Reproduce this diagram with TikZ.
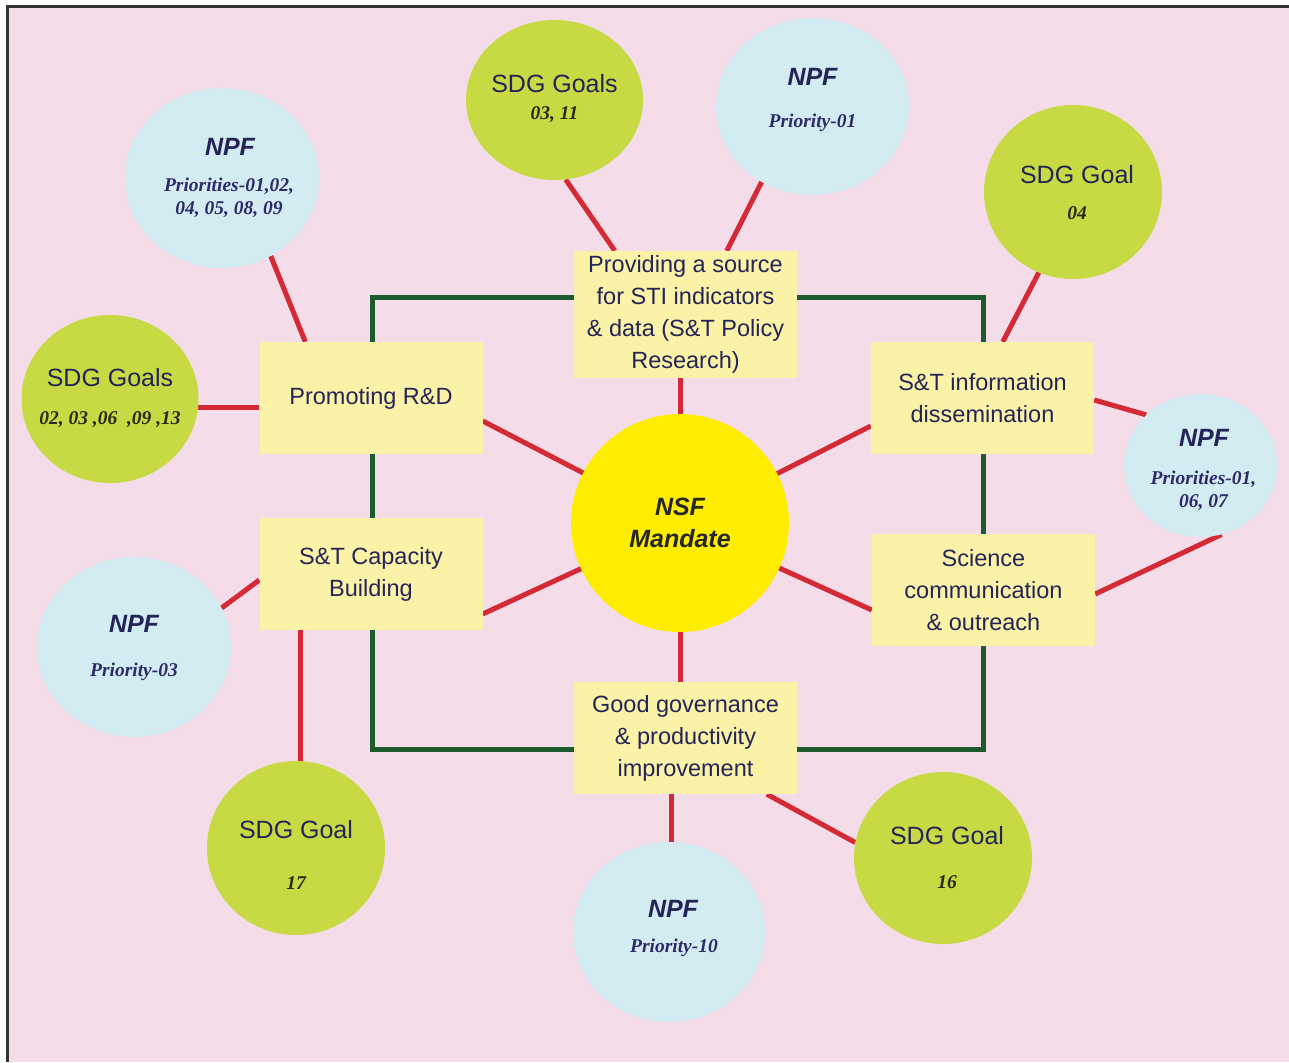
\documentclass[tikz,border=0pt]{standalone}
\usepackage{fontspec}
\setmainfont{Liberation Sans}
\newfontfamily\numf{Liberation Serif}
\usetikzlibrary{shapes.geometric,calc}
\definecolor{pinkbg}{HTML}{F4DCE8}
\definecolor{navyt}{HTML}{252458}
\definecolor{numnavy}{HTML}{2D2A6A}
\definecolor{numdark}{HTML}{2A2914}
\definecolor{boxy}{HTML}{FAF2A6}
\definecolor{limeg}{HTML}{C7DA44}
\definecolor{lightb}{HTML}{D2ECF2}
\definecolor{centery}{HTML}{FFED00}
\definecolor{wirered}{HTML}{D42A35}
\definecolor{frameg}{HTML}{1D5A2E}
\pgfdeclarelayer{back}
\pgfdeclarelayer{wires}
\pgfsetlayers{back,wires,main}
\begin{document}
\begin{tikzpicture}[x=1pt,y=-1pt,
  stbox/.style={rectangle,fill=boxy,minimum width=223pt,minimum height=112pt,inner sep=0pt,align=center,
    font=\fontsize{23.5}{32}\selectfont,text=navyt},
  sdgc/.style={ellipse,fill=limeg,inner sep=0pt},
  npfc/.style={ellipse,fill=lightb,inner sep=0pt},
  sdgt/.style={anchor=base,inner sep=0pt,font=\fontsize{25}{30}\selectfont,text=navyt},
  npft/.style={anchor=base,inner sep=0pt,font=\fontsize{25}{30}\selectfont\bfseries\itshape,text=navyt},
  sdgn/.style={anchor=base,inner sep=0pt,align=center,font=\numf\fontsize{19.5}{23}\selectfont\bfseries\itshape,text=numdark},
  npfn/.style={anchor=base,inner sep=0pt,align=center,font=\numf\fontsize{19.5}{23}\selectfont\bfseries\itshape,text=numnavy},
  wire/.style={draw=wirered,line width=5pt},
  gframe/.style={draw=frameg,line width=5pt}]
\useasboundingbox (0,0) rectangle (1289,1062);
\begin{pgfonlayer}{back}
\fill[white] (0,0) rectangle (1289,1062);
\fill[pinkbg] (7,7) rectangle (1289,1062);
\draw[line width=3pt,black!80] (7,1062) -- (7,7) -- (1289,7);
\end{pgfonlayer}

% centre
\node[circle,fill=centery,minimum size=218pt,inner sep=0pt,align=center,
  font=\fontsize{25}{32}\selectfont\bfseries\itshape,text=black!85] (nsf) at (680,523) {NSF\\Mandate};

% boxes
\node[stbox,minimum height=127pt] (tb) at (685.5,314.5) {Providing a source\\for STI indicators\\\& data (S\&T Policy\\Research)};
\node[stbox] (rd) at (371,398) {Promoting R\&D};
\node[stbox] (info) at (982.5,398) {S\&T information\\dissemination};
\node[stbox] (cap) at (371,574) {S\&T Capacity\\Building};
\node[stbox] (sci) at (983.5,590) {Science\\communication\\\& outreach};
\node[stbox] (gov) at (685.5,738) {Good governance\\\& productivity\\improvement};

% outer circles
\node[npfc,minimum width=194pt,minimum height=180pt] (npfA) at (222,178) {};
\node[sdgc,minimum width=177pt,minimum height=168pt] (sdgA) at (110,399) {};
\node[sdgc,minimum width=177pt,minimum height=160pt] (sdgB) at (554.5,100) {};
\node[npfc,minimum width=193pt,minimum height=177pt] (npfB) at (812.5,106.5) {};
\node[sdgc,minimum width=178pt,minimum height=174pt] (sdgC) at (1073,192) {};
\node[npfc,minimum width=153pt,minimum height=143pt] (npfC) at (1200.5,465.5) {};
\node[npfc,minimum width=194pt,minimum height=180pt] (npfD) at (134,647) {};
\node[sdgc,minimum width=178pt,minimum height=174pt] (sdgD) at (296,848) {};
\node[npfc,minimum width=192pt,minimum height=180pt] (npfE) at (669,932) {};
\node[sdgc,minimum width=178pt,minimum height=172pt] (sdgE) at (943,858) {};

% circle texts (base anchor of two-line texts sits on the last line)
\node[npft] (tA1) at ($(npfA)+(8,-23)$) {NPF};
\node[npfn] (tA2) at ($(npfA)+(7,36)$) {Priorities-01,02,\\04, 05, 08, 09};
\node[sdgt] (sA1) at ($(sdgA)+(0,-13)$) {SDG Goals};
\node[sdgn] (sA2) at ($(sdgA)+(0,25)$) {02, 03 ,06\ \ ,09 ,13};
\node[sdgt] (sB1) at ($(sdgB)+(0,-7)$) {SDG Goals};
\node[sdgn] (sB2) at ($(sdgB)+(0,20)$) {03, 11};
\node[npft] (tB1) at ($(npfB)+(0,-20.5)$) {NPF};
\node[npfn] (tB2) at ($(npfB)+(0,21.5)$) {Priority-01};
\node[sdgt] (sC1) at ($(sdgC)+(4,-9)$) {SDG Goal};
\node[sdgn] (sC2) at ($(sdgC)+(4,27)$) {04};
\node[npft] (tC1) at ($(npfC)+(3.5,-19.5)$) {NPF};
\node[npfn] (tC2) at ($(npfC)+(3,41.5)$) {Priorities-01,\\06, 07};
\node[npft] (tD1) at ($(npfD)+(0,-15)$) {NPF};
\node[npfn] (tD2) at ($(npfD)+(0,29)$) {Priority-03};
\node[sdgt] (sD1) at ($(sdgD)+(0,-10)$) {SDG Goal};
\node[sdgn] (sD2) at ($(sdgD)+(0,41)$) {17};
\node[npft] (tE1) at ($(npfE)+(4,-15)$) {NPF};
\node[npfn] (tE2) at ($(npfE)+(5,20)$) {Priority-10};
\node[sdgt] (sE1) at ($(sdgE)+(4,-14)$) {SDG Goal};
\node[sdgn] (sE2) at ($(sdgE)+(4,30)$) {16};

% connectors
\begin{pgfonlayer}{wires}
\draw[gframe] (372,297) rectangle (983,749);
\draw[wire] ($(rd.north west)+(46,0)$) -- (npfA.-58);
\draw[wire] ($(rd.west)+(0,9)$) coordinate (w2) -- (w2 -| sdgA.center);
\draw[wire] ($(tb.north west)+(41,0)$) -- (sdgB.-82.5);
\draw[wire] ($(tb.north west)+(153,0)$) -- (npfB.-124.3);
\draw[wire] ($(info.north west)+(132,0)$) -- (sdgC.-113.6);
\draw[wire] ($(info.east)+(0,2)$) -- (npfC.137.2);
\draw[wire] ($(sci.east)+(0,4)$) -- (npfC.-73.9);
\draw[wire] ($(cap.west)+(0,6)$) -- (npfD.24.4);
\draw[wire] ($(cap.south west)+(41,0)$) coordinate (w9) -- (w9 |- sdgD.center);
\draw[wire] ($(gov.south west)+(98,0)$) coordinate (w10) -- (w10 |- npfE.center);
\draw[wire] ($(gov.south west)+(193,0)$) -- (sdgE.170);
\draw[wire] (nsf.center) -- (nsf.center |- tb.center);
\draw[wire] (nsf.center) -- (nsf.center |- gov.center);
\draw[wire] (nsf.center) -- ($(rd.east)+(0,23)$);
\draw[wire] (nsf.center) -- ($(info.west)+(0,28)$);
\draw[wire] (nsf.center) -- ($(cap.east)+(0,40)$);
\draw[wire] (nsf.center) -- ($(sci.west)+(0,20)$);
\end{pgfonlayer}
\end{tikzpicture}
\end{document}
